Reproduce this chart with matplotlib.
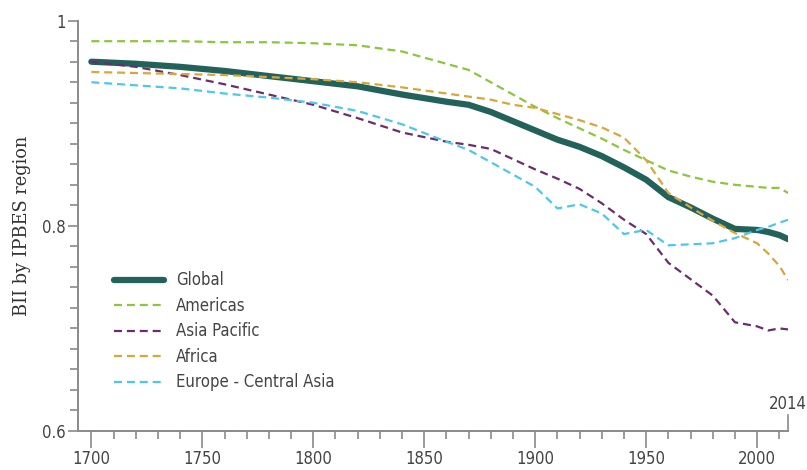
import matplotlib.pyplot as plt
import numpy as np
from matplotlib.ticker import MultipleLocator

# data
years = [1700, 1720, 1740, 1760, 1780, 1800, 1820, 1840, 1860, 1870, 1880, 1890,
         1900, 1910, 1920, 1930, 1940, 1950, 1960, 1970, 1980, 1990, 2000, 2005,
         2010, 2014]

global_bii = [0.960, 0.958, 0.955, 0.951, 0.946, 0.941, 0.936, 0.928, 0.921, 0.918,
              0.911, 0.902, 0.893, 0.884, 0.877, 0.868, 0.857, 0.845, 0.828, 0.818,
              0.807, 0.797, 0.796, 0.794, 0.791, 0.787]
americas = [0.980, 0.980, 0.980, 0.979, 0.979, 0.978, 0.976, 0.970, 0.958, 0.952,
            0.940, 0.928, 0.916, 0.905, 0.895, 0.885, 0.874, 0.864, 0.854, 0.848,
            0.843, 0.840, 0.838, 0.837, 0.837, 0.832]
asia_pacific = [0.960, 0.955, 0.947, 0.938, 0.928, 0.918, 0.905, 0.891, 0.882, 0.879,
                0.875, 0.865, 0.855, 0.846, 0.836, 0.822, 0.806, 0.792, 0.764, 0.748,
                0.732, 0.706, 0.702, 0.698, 0.700, 0.699]
africa = [0.950, 0.949, 0.948, 0.947, 0.945, 0.943, 0.940, 0.935, 0.929, 0.926,
          0.923, 0.918, 0.915, 0.909, 0.903, 0.896, 0.886, 0.864, 0.832, 0.818,
          0.805, 0.793, 0.783, 0.773, 0.761, 0.747]
europe_ca = [0.940, 0.937, 0.934, 0.929, 0.925, 0.920, 0.912, 0.899, 0.882, 0.874,
             0.862, 0.850, 0.838, 0.817, 0.821, 0.812, 0.792, 0.796, 0.781, 0.782,
             0.783, 0.788, 0.796, 0.799, 0.803, 0.806]

series = [
    ("Global", global_bii, "#23625a", "-", 4.5),
    ("Americas", americas, "#8cc63f", "--", 1.6),
    ("Asia Pacific", asia_pacific, "#6b2d6b", "--", 1.6),
    ("Africa", africa, "#d9a637", "--", 1.6),
    ("Europe - Central Asia", europe_ca, "#4dc7ec", "--", 1.6),
]

axis_grey = "#8a8a8a"
text_grey = "#444444"
fs = 12

plt.rcParams["font.family"] = "DejaVu Sans"
plt.rcParams["font.stretch"] = "condensed"

fig = plt.figure(figsize=(8.07, 4.70), dpi=100)
ax = fig.add_axes([0.0967, 0.083, 0.88, 0.873])

for name, vals, col, ls, lw in series:
    if ls == "--":
        ax.plot(years, vals, color=col, linestyle=ls, linewidth=lw, label=name,
                dashes=(3.6, 2.2), solid_capstyle="butt")
    else:
        ax.plot(years, vals, color=col, linestyle=ls, linewidth=lw, label=name,
                solid_capstyle="round")

ax.set_xlim(1694, 2014)
ax.set_ylim(0.6, 1.0)

for s in ["top", "right"]:
    ax.spines[s].set_visible(False)
for s in ["left", "bottom"]:
    ax.spines[s].set_color(axis_grey)
    ax.spines[s].set_linewidth(1.4)

ax.set_xticks([1700, 1750, 1800, 1850, 1900, 1950, 2000])
ax.xaxis.set_minor_locator(MultipleLocator(10))
ax.set_yticks([0.6, 0.8, 1.0])
ax.set_yticklabels(["0.6", "0.8", "1"])
ax.yaxis.set_minor_locator(MultipleLocator(0.02))

ax.tick_params(axis="x", which="major", length=12, width=1.2, color=axis_grey,
               labelsize=fs, labelcolor=text_grey, pad=2)
ax.tick_params(axis="x", which="minor", length=6, width=1.2, color=axis_grey)
ax.tick_params(axis="y", which="major", length=7, width=1.2, color=axis_grey,
               labelsize=fs, labelcolor=text_grey, pad=2)
ax.tick_params(axis="y", which="minor", length=5.5, width=1.2, color=axis_grey)

# end-of-record marker for 2014
ax.plot([2014, 2014], [0.6, 0.616], color=axis_grey, linewidth=1.2, clip_on=False)
ax.text(2014, 0.618, "2014", ha="center", va="bottom", fontsize=fs,
        color=text_grey)

ax.set_ylabel("BII by IPBES region", family="DejaVu Serif", fontstretch="normal",
              fontsize=12.8, color="#333333", labelpad=8)

leg = ax.legend(loc="lower left", bbox_to_anchor=(0.03, 0.06), frameon=False,
                prop={"size": fs}, handlelength=3.0,
                labelspacing=0.45, handletextpad=0.7)
for t in leg.get_texts():
    t.set_color(text_grey)

fig.savefig("out.png", dpi=100)
